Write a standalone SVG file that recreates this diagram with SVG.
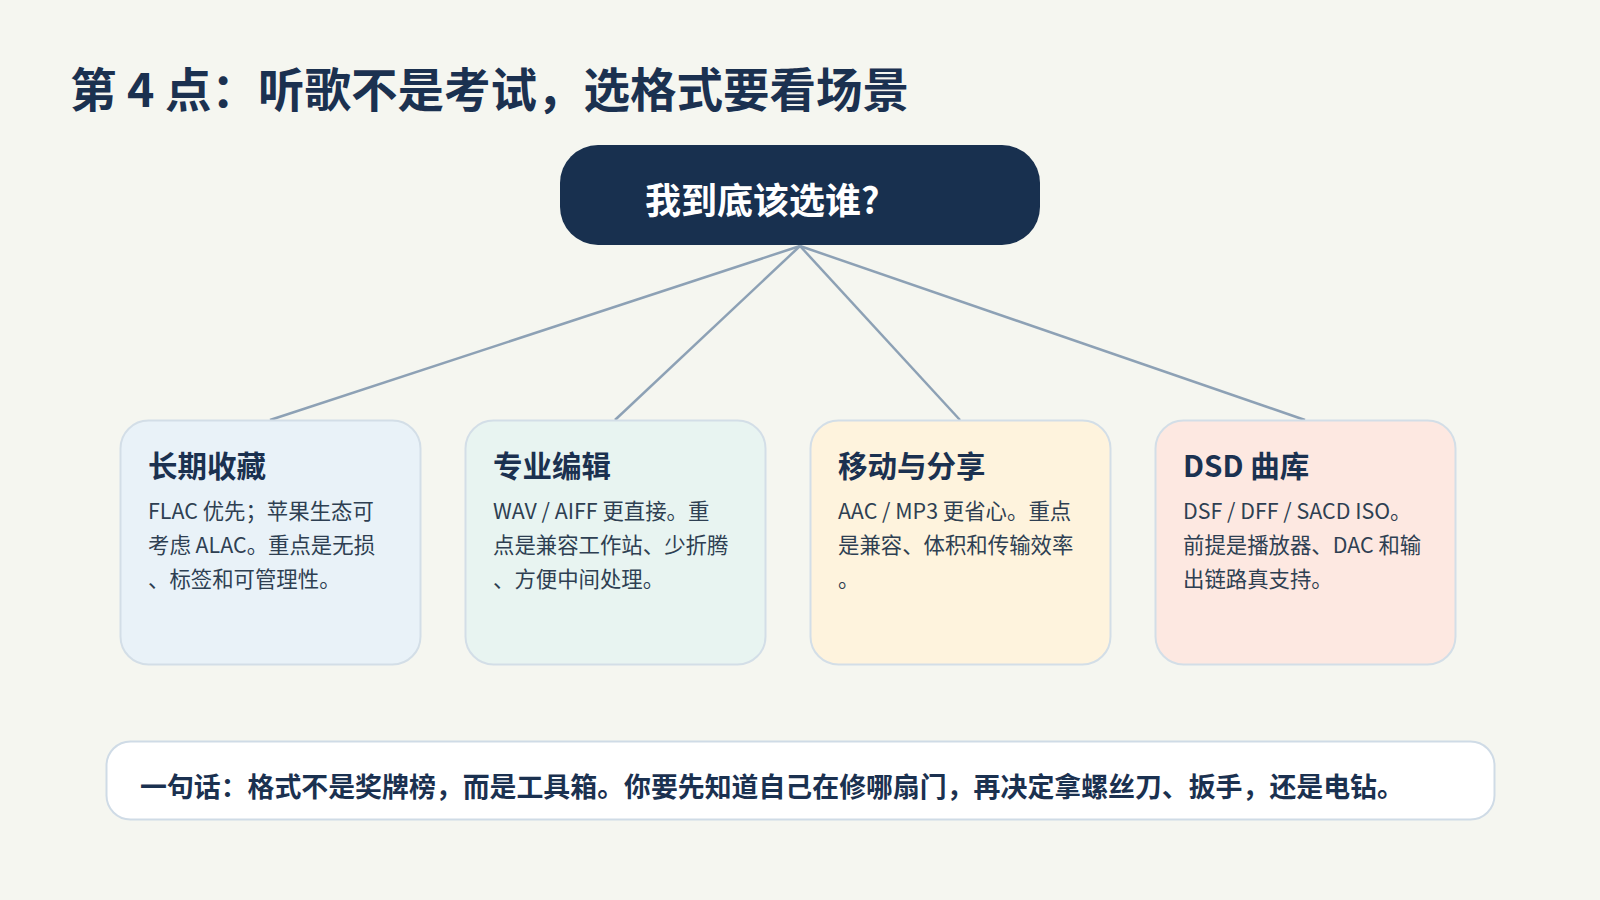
<svg xmlns="http://www.w3.org/2000/svg" width="1600" height="900" viewBox="0 0 1600 900">
<style>
.bg{fill:#f5f6f0}
.title{font-family:"Noto Sans CJK SC","Liberation Sans",sans-serif;font-weight:700;font-size:46.5px;fill:#1b3150}
.hub{fill:#18304f}
.hubt{font-family:"Noto Sans CJK SC","Liberation Sans",sans-serif;font-weight:700;font-size:36px;fill:#ffffff}
.card{stroke:#d3dee7;stroke-width:2}
.ct{font-family:"Noto Sans CJK SC","Liberation Sans",sans-serif;font-weight:700;font-size:29.5px;fill:#1b3150}
.cb{font-family:"Noto Sans CJK SC","Liberation Sans",sans-serif;font-size:21.4px;fill:#2e3f52}
.conn{stroke:#8da1b5;stroke-width:2.5;fill:none}
.note{fill:#ffffff;stroke:#cfdbe6;stroke-width:2}
.nt{font-family:"Noto Sans CJK SC","Liberation Sans",sans-serif;font-weight:700;font-size:26.9px;fill:#1b3150}
</style>
<rect class="bg" x="0" y="0" width="1600" height="900"/>
<text class="title" x="70" y="107">第 4 点：听歌不是考试，选格式要看场景</text>
<g id="connectors">
<line class="conn" x1="800" y1="246" x2="270" y2="420"/>
<line class="conn" x1="800" y1="246" x2="615" y2="420"/>
<line class="conn" x1="800" y1="246" x2="960" y2="420"/>
<line class="conn" x1="800" y1="246" x2="1305" y2="420"/>
</g>
<g id="hub">
<rect class="hub" x="560" y="145" width="480" height="100" rx="38"/>
<text class="hubt" x="645" y="214">我到底该选谁?</text>
</g>
<g id="card1">
<rect class="card" x="120.5" y="420.5" width="300" height="244" rx="28" fill="#e9f2f8"/>
<text class="ct" x="148" y="477">长期收藏</text>
<text class="cb" x="148" y="519">FLAC 优先；苹果生态可</text>
<text class="cb" x="148" y="553">考虑 ALAC。重点是无损</text>
<text class="cb" x="148" y="587">、标签和可管理性。</text>
</g>
<g id="card2">
<rect class="card" x="465.5" y="420.5" width="300" height="244" rx="28" fill="#e8f4f1"/>
<text class="ct" x="493" y="477">专业编辑</text>
<text class="cb" x="493" y="519">WAV / AIFF 更直接。重</text>
<text class="cb" x="493" y="553">点是兼容工作站、少折腾</text>
<text class="cb" x="493" y="587">、方便中间处理。</text>
</g>
<g id="card3">
<rect class="card" x="810.5" y="420.5" width="300" height="244" rx="28" fill="#fef3dd"/>
<text class="ct" x="838" y="477">移动与分享</text>
<text class="cb" x="838" y="519">AAC / MP3 更省心。重点</text>
<text class="cb" x="838" y="553">是兼容、体积和传输效率</text>
<text class="cb" x="838" y="587">。</text>
</g>
<g id="card4">
<rect class="card" x="1155.5" y="420.5" width="300" height="244" rx="28" fill="#fde8e1"/>
<text class="ct" x="1183" y="477">DSD 曲库</text>
<text class="cb" x="1183" y="519">DSF / DFF / SACD ISO。</text>
<text class="cb" x="1183" y="553">前提是播放器、DAC 和输</text>
<text class="cb" x="1183" y="587">出链路真支持。</text>
</g>
<g id="note">
<rect class="note" x="106.5" y="741.5" width="1388" height="78" rx="24"/>
<text class="nt" x="140" y="797">一句话：格式不是奖牌榜，而是工具箱。你要先知道自己在修哪扇门，再决定拿螺丝刀、扳手，还是电钻。</text>
</g>
</svg>
